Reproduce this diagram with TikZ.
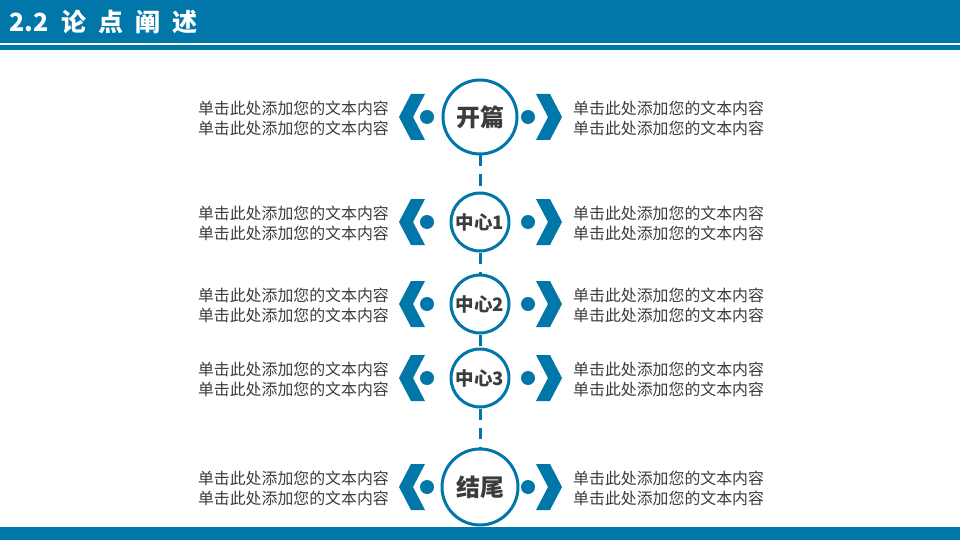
\documentclass[tikz,border=0pt]{standalone}
\usepackage{fontspec}
\newfontfamily\cjk{Noto Sans CJK SC}
\definecolor{mainblue}{RGB}{0,119,168}
\definecolor{txtgray}{RGB}{60,60,60}
\tikzset{
  ring/.style={circle,draw=mainblue,line width=3pt,fill=white,inner sep=0pt,text=txtgray,font=\cjk\bfseries},
  dotnode/.style={circle,fill=mainblue,inner sep=0pt,minimum size=14pt},
  chev/.style={fill=mainblue},
  link/.style={draw=mainblue,line width=3pt,dash pattern=on 11pt off 8pt},
  lefttext/.style={anchor=east,align=right,text=txtgray,font=\cjk\fontsize{15.9}{20}\selectfont,inner sep=0pt},
  righttext/.style={anchor=west,align=left,text=txtgray,font=\cjk\fontsize{15.9}{20}\selectfont,inner sep=0pt}
}
\begin{document}
\begin{tikzpicture}[x=1pt,y=-1pt]
\useasboundingbox (0,0) rectangle (960,540);
% header
\fill[mainblue] (0,0) rectangle (960,43);
\fill[mainblue] (0,45.5) rectangle (960,50);
\node[anchor=west,text=white,font=\cjk\bfseries\fontsize{25}{25}\selectfont,inner sep=0pt] (title) at (9,22)
  {2.2\hspace{13pt}论\hspace{12pt}点\hspace{12pt}阐\hspace{12pt}述};
% footer
\fill[mainblue] (0,527) rectangle (960,540);
% centres
\coordinate (p1) at (480,117);
\coordinate (p2) at (480,222);
\coordinate (p3) at (480,304);
\coordinate (p4) at (480,378);
\coordinate (p5) at (480,487);
% circles
\node[ring,minimum size=74pt,font=\cjk\bfseries\fontsize{24}{24}\selectfont] (c1) at (p1) {开篇};
\node[ring,minimum size=58pt,font=\cjk\bfseries\fontsize{18.5}{18.5}\selectfont] (c2) at (p2) {中心1};
\node[ring,minimum size=58pt,font=\cjk\bfseries\fontsize{18.5}{18.5}\selectfont] (c3) at (p3) {中心2};
\node[ring,minimum size=58pt,font=\cjk\bfseries\fontsize{18.5}{18.5}\selectfont] (c4) at (p4) {中心3};
\node[ring,minimum size=76pt,font=\cjk\bfseries\fontsize{24}{24}\selectfont] (c5) at (p5) {结尾};
% connectors
\draw[link] (c1.south) -- (c2.north);
\draw[link] (c2.south) -- (c3.north);
\draw[link] (c3.south) -- (c4.north);
\draw[link] (c4.south) -- (c5.north);
% chevrons, dots, texts
\foreach \i/\yy in {1/117,2/222,3/304,4/378,5/487}{
  \fill[chev] (480-81,\yy) -- (480-69,\yy-23) -- (480-55,\yy-23) -- (480-67,\yy) -- (480-55,\yy+23) -- (480-69,\yy+23) -- cycle;
  \fill[chev] (480+82,\yy) -- (480+70,\yy-23) -- (480+56,\yy-23) -- (480+68,\yy) -- (480+56,\yy+23) -- (480+70,\yy+23) -- cycle;
  \node[dotnode] (dl\i) at (480-53,\yy) {};
  \node[dotnode] (dr\i) at (480+48,\yy) {};
  \node[lefttext] (tl\i) at (389,\yy+1) {单击此处添加您的文本内容\\单击此处添加您的文本内容};
  \node[righttext] (tr\i) at (573,\yy+1) {单击此处添加您的文本内容\\单击此处添加您的文本内容};
}
\end{tikzpicture}
\end{document}
